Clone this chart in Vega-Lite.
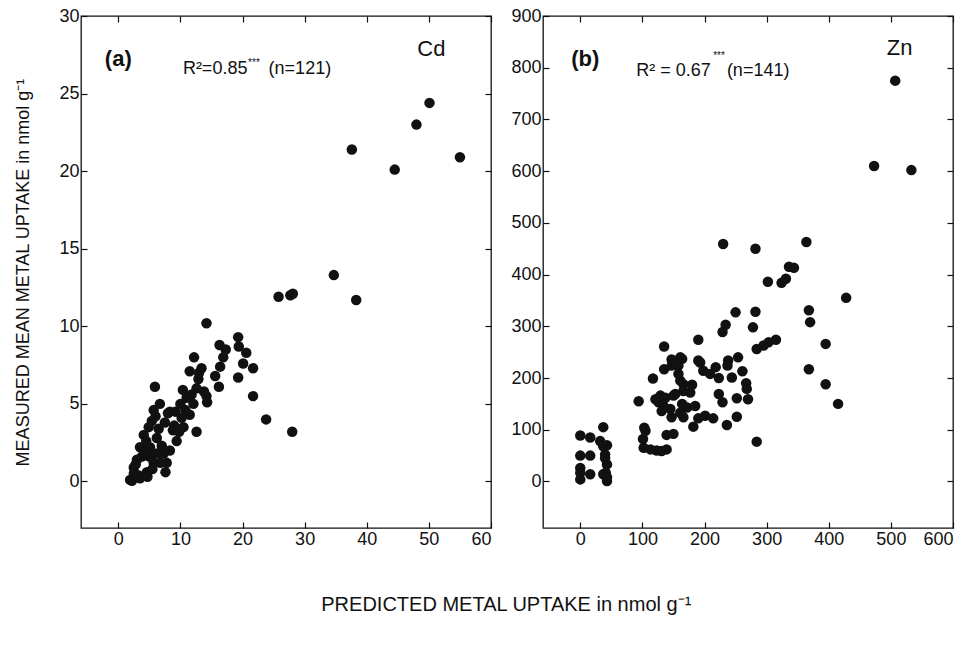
{
  "$schema": "https://vega.github.io/schema/vega-lite/v6.json",
  "background": "white",
  "padding": {"left": 14, "top": 6, "right": 5, "bottom": 5},
  "spacing": 52,
  "bounds": "flush",
  "title": {"text": "PREDICTED METAL UPTAKE  in nmol g⁻¹", "orient": "bottom", "anchor": "middle", "offset": 46, "dx": 22, "font": "Liberation Sans", "fontSize": 20, "fontWeight": "normal", "color": "#111"},
  "datasets": {
    "cd": [
      {"x":37.6,"y":21.4},{"x":44.5,"y":20.1},{"x":48.0,"y":23.0},{"x":50.1,"y":24.4},{"x":55.0,"y":20.9},{"x":34.7,"y":13.3},{"x":25.8,"y":11.9},{"x":27.7,"y":12.0},{"x":28.1,"y":12.1},{"x":38.3,"y":11.7},
      {"x":14.2,"y":10.2},{"x":5.9,"y":6.1},{"x":19.3,"y":9.3},{"x":19.4,"y":8.7},{"x":20.6,"y":8.3},{"x":20.1,"y":7.6},{"x":21.7,"y":7.3},{"x":19.3,"y":6.7},{"x":21.7,"y":5.5},{"x":23.8,"y":4.0},
      {"x":28.0,"y":3.2},{"x":16.3,"y":8.8},{"x":17.3,"y":8.5},{"x":16.9,"y":8.0},{"x":16.4,"y":7.4},{"x":15.6,"y":6.8},{"x":16.2,"y":6.1},{"x":12.2,"y":8.0},{"x":11.5,"y":7.1},{"x":13.4,"y":7.3},
      {"x":12.9,"y":6.6},{"x":12.6,"y":6.0},{"x":14.2,"y":5.5},{"x":14.3,"y":5.1},{"x":10.4,"y":5.9},{"x":12.1,"y":5.0},{"x":11.5,"y":4.3},{"x":10.0,"y":5.0},{"x":10.2,"y":4.1},{"x":10.5,"y":3.5},
      {"x":12.6,"y":3.2},{"x":8.8,"y":3.3},{"x":9.4,"y":2.6},{"x":8.3,"y":2.0},{"x":8.3,"y":4.5},{"x":6.7,"y":5.0},{"x":5.7,"y":4.6},{"x":5.4,"y":3.9},{"x":4.9,"y":3.5},{"x":4.1,"y":3.0},
      {"x":3.5,"y":2.2},{"x":6.2,"y":2.8},{"x":7.0,"y":2.3},{"x":7.3,"y":1.8},{"x":7.8,"y":1.2},{"x":7.6,"y":0.6},{"x":5.7,"y":1.2},{"x":4.6,"y":0.6},{"x":3.0,"y":1.4},{"x":2.5,"y":0.9},
      {"x":1.9,"y":0.1},{"x":2.2,"y":0.05},{"x":3.5,"y":0.2},{"x":4.7,"y":0.3},{"x":2.5,"y":0.5},{"x":6.2,"y":1.8},{"x":5.1,"y":2.2},{"x":9.2,"y":4.5},{"x":11.0,"y":5.4},{"x":13.0,"y":7.0},
      {"x":9.0,"y":3.6},{"x":6.0,"y":4.2},{"x":6.5,"y":3.4},{"x":4.5,"y":2.6},{"x":3.8,"y":1.6},{"x":5.0,"y":1.6},{"x":6.8,"y":1.2},{"x":3.2,"y":0.4},{"x":5.5,"y":0.8},{"x":2.8,"y":1.1},
      {"x":4.2,"y":1.9},{"x":7.5,"y":3.8},{"x":8.0,"y":4.4},{"x":11.8,"y":5.6},{"x":13.8,"y":5.8},{"x":10.8,"y":4.6},{"x":9.8,"y":3.2}
    ],
    "zn": [
      {"x":507,"y":775},{"x":473,"y":610},{"x":533,"y":602},{"x":230,"y":459},{"x":282,"y":450},{"x":364,"y":463},{"x":336,"y":415},{"x":344,"y":413},{"x":302,"y":386},{"x":324,"y":384},
      {"x":331,"y":392},{"x":428,"y":355},{"x":368,"y":331},{"x":370,"y":308},{"x":395,"y":266},{"x":368,"y":217},{"x":395,"y":188},{"x":415,"y":150},{"x":284,"y":77},{"x":250,"y":327},
      {"x":282,"y":328},{"x":278,"y":298},{"x":234,"y":303},{"x":229,"y":289},{"x":315,"y":274},{"x":303,"y":269},{"x":295,"y":263},{"x":284,"y":256},{"x":190,"y":274},{"x":135,"y":261},
      {"x":135,"y":217},{"x":117,"y":199},{"x":94,"y":155},{"x":254,"y":240},{"x":238,"y":234},{"x":237,"y":224},{"x":261,"y":213},{"x":244,"y":201},{"x":267,"y":190},{"x":268,"y":179},
      {"x":270,"y":159},{"x":252,"y":161},{"x":252,"y":125},{"x":236,"y":109},{"x":223,"y":200},{"x":223,"y":169},{"x":229,"y":153},{"x":218,"y":221},{"x":209,"y":208},{"x":198,"y":214},
      {"x":193,"y":230},{"x":190,"y":234},{"x":214,"y":122},{"x":201,"y":127},{"x":190,"y":122},{"x":182,"y":106},{"x":180,"y":187},{"x":177,"y":172},{"x":185,"y":146},{"x":172,"y":143},
      {"x":161,"y":240},{"x":158,"y":224},{"x":158,"y":208},{"x":161,"y":195},{"x":164,"y":237},{"x":147,"y":236},{"x":147,"y":224},{"x":166,"y":188},{"x":166,"y":175},{"x":164,"y":150},
      {"x":161,"y":133},{"x":166,"y":124},{"x":147,"y":124},{"x":145,"y":140},{"x":134,"y":146},{"x":131,"y":136},{"x":126,"y":153},{"x":121,"y":159},{"x":129,"y":166},{"x":137,"y":162},
      {"x":150,"y":166},{"x":153,"y":169},{"x":139,"y":90},{"x":150,"y":92},{"x":139,"y":62},{"x":131,"y":59},{"x":123,"y":60},{"x":113,"y":62},{"x":102,"y":65},{"x":101,"y":82},
      {"x":103,"y":104},{"x":105,"y":98},{"x":0,"y":89},{"x":16,"y":85},{"x":32,"y":78},{"x":37,"y":105},{"x":43,"y":70},{"x":40,"y":52},{"x":43,"y":33},{"x":41,"y":17},
      {"x":43,"y":1},{"x":37,"y":14},{"x":0,"y":50},{"x":16,"y":50},{"x":0,"y":26},{"x":0,"y":17},{"x":0,"y":4},{"x":16,"y":14},{"x":40,"y":45},{"x":43,"y":8},{"x":37,"y":68}
    ]
  },
  "hconcat": [
    {
      "width": 410,
      "height": 512,
      "resolve": {"axis": {"x": "independent", "y": "independent"}},
      "layer": [
        {
          "data": {"name": "cd"},
          "mark": {"type": "circle", "size": 110, "color": "#111", "opacity": 1},
          "encoding": {
            "x": {"field": "x", "type": "quantitative", "scale": {"domain": [-6, 60], "nice": false, "zero": false}, "axis": {"values": [0,10,20,30,40,50,60], "title": null}},
            "y": {"field": "y", "type": "quantitative", "scale": {"domain": [-3, 30], "nice": false, "zero": false}, "axis": {"values": [0,5,10,15,20,25,30], "title": "MEASURED MEAN METAL UPTAKE in nmol g⁻¹", "titleFontSize": 18, "titlePadding": 26}}
          }
        },
        {
          "data": {"name": "cd"},
          "mark": {"type": "circle", "opacity": 0},
          "encoding": {
            "x": {"field": "x", "type": "quantitative", "axis": {"orient": "top", "values": [0,10,20,30,40,50,60], "labels": false, "title": null}},
            "y": {"field": "y", "type": "quantitative", "axis": {"orient": "right", "values": [0,5,10,15,20,25,30], "labels": false, "title": null}}
          }
        },
        {
          "data": {"values": [{"x": 0, "y": 27.2, "t": "(a)"}]},
          "mark": {"type": "text", "font": "Liberation Sans", "fontSize": 22, "fontWeight": "bold", "color": "#111"},
          "encoding": {"x": {"field": "x", "type": "quantitative", "axis": null}, "y": {"field": "y", "type": "quantitative", "axis": null}, "text": {"field": "t"}}
        },
        {
          "data": {"values": [{"x": 50.4, "y": 27.9, "t": "Cd"}]},
          "mark": {"type": "text", "font": "Liberation Sans", "fontSize": 22, "color": "#111"},
          "encoding": {"x": {"field": "x", "type": "quantitative", "axis": null}, "y": {"field": "y", "type": "quantitative", "axis": null}, "text": {"field": "t"}}
        },
        {
          "data": {"values": [{"x": 10.4, "y": 26.6, "t": "R²=0.85"}, {"x": 24.2, "y": 26.6, "t": "(n=121)"}]},
          "mark": {"type": "text", "font": "Liberation Sans", "fontSize": 18, "align": "left", "color": "#111"},
          "encoding": {"x": {"field": "x", "type": "quantitative", "axis": null}, "y": {"field": "y", "type": "quantitative", "axis": null}, "text": {"field": "t"}}
        },
        {
          "data": {"values": [{"x": 20.9, "y": 27.0, "t": "***"}]},
          "mark": {"type": "text", "font": "Liberation Sans", "fontSize": 10, "align": "left", "color": "#111"},
          "encoding": {"x": {"field": "x", "type": "quantitative", "axis": null}, "y": {"field": "y", "type": "quantitative", "axis": null}, "text": {"field": "t"}}
        }
      ]
    },
    {
      "width": 410,
      "height": 512,
      "resolve": {"axis": {"x": "independent", "y": "independent"}},
      "layer": [
        {
          "data": {"name": "zn"},
          "mark": {"type": "circle", "size": 110, "color": "#111", "opacity": 1},
          "encoding": {
            "x": {"field": "x", "type": "quantitative", "scale": {"domain": [-60, 600], "nice": false, "zero": false}, "axis": {"values": [0,100,200,300,400,500,600], "title": null}},
            "y": {"field": "y", "type": "quantitative", "scale": {"domain": [-90, 900], "nice": false, "zero": false}, "axis": {"values": [0,100,200,300,400,500,600,700,800,900], "title": null}}
          }
        },
        {
          "data": {"name": "zn"},
          "mark": {"type": "circle", "opacity": 0},
          "encoding": {
            "x": {"field": "x", "type": "quantitative", "axis": {"orient": "top", "values": [0,100,200,300,400,500,600], "labels": false, "title": null}},
            "y": {"field": "y", "type": "quantitative", "axis": {"orient": "right", "values": [0,100,200,300,400,500,600,700,800,900], "labels": false, "title": null}}
          }
        },
        {
          "data": {"values": [{"x": 8, "y": 816, "t": "(b)"}]},
          "mark": {"type": "text", "font": "Liberation Sans", "fontSize": 22, "fontWeight": "bold", "color": "#111"},
          "encoding": {"x": {"field": "x", "type": "quantitative", "axis": null}, "y": {"field": "y", "type": "quantitative", "axis": null}, "text": {"field": "t"}}
        },
        {
          "data": {"values": [{"x": 514, "y": 839, "t": "Zn"}]},
          "mark": {"type": "text", "font": "Liberation Sans", "fontSize": 22, "color": "#111"},
          "encoding": {"x": {"field": "x", "type": "quantitative", "axis": null}, "y": {"field": "y", "type": "quantitative", "axis": null}, "text": {"field": "t"}}
        },
        {
          "data": {"values": [{"x": 90, "y": 793, "t": "R² = 0.67"}, {"x": 236, "y": 793, "t": "(n=141)"}]},
          "mark": {"type": "text", "font": "Liberation Sans", "fontSize": 18, "align": "left", "color": "#111"},
          "encoding": {"x": {"field": "x", "type": "quantitative", "axis": null}, "y": {"field": "y", "type": "quantitative", "axis": null}, "text": {"field": "t"}}
        },
        {
          "data": {"values": [{"x": 214, "y": 822, "t": "***"}]},
          "mark": {"type": "text", "font": "Liberation Sans", "fontSize": 10, "align": "left", "color": "#111"},
          "encoding": {"x": {"field": "x", "type": "quantitative", "axis": null}, "y": {"field": "y", "type": "quantitative", "axis": null}, "text": {"field": "t"}}
        }
      ]
    }
  ],
  "config": {
    "view": {"stroke": "#111", "strokeWidth": 1.3},
    "axis": {"domain": false, "grid": false, "ticks": true, "tickColor": "#111", "tickSize": -6, "tickWidth": 1.2, "labelFont": "Liberation Sans", "labelFontSize": 18, "labelColor": "#111", "labelPadding": 8, "titleFont": "Liberation Sans", "titleFontWeight": "normal", "titleColor": "#111"}
  }
}
